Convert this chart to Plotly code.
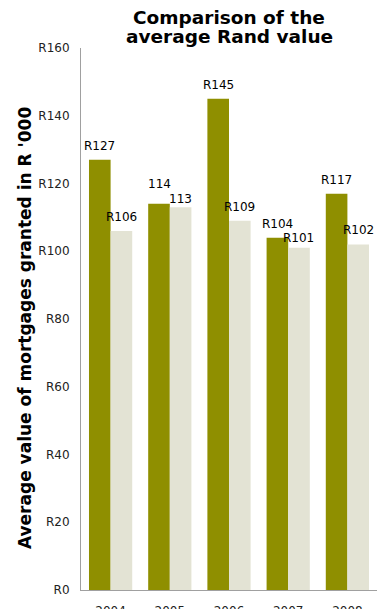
import plotly.graph_objects as go

years = ["2004", "2005", "2006", "2007", "2008"]
series_a = [127, 114, 145, 104, 117]
series_b = [106, 113, 109, 101, 102]
labels_a = ["R127", "114", "R145", "R104", "R117"]
labels_b = ["R106", "113", "R109", "R101", "R102"]
y_ticks = [0, 20, 40, 60, 80, 100, 120, 140, 160]
y_tick_text = ["R0", "R20", "R40", "R60", "R80", "R100", "R120", "R140", "R160"]

FONT = "DejaVu Sans"
# small label nudges (px) mimicking the source's label collision avoidance
nudge_a = {1: 6}
nudge_b = {1: -6, 3: -4}

fig = go.Figure()
fig.add_trace(go.Bar(x=years, y=series_a, marker=dict(color="#8F8F00", line=dict(width=0)),
                     name="A", showlegend=False))
fig.add_trace(go.Bar(x=years, y=series_b, marker=dict(color="#E3E3D4", line=dict(width=0)),
                     name="B", showlegend=False))

# data labels (category index positions on the category axis)
for i, yr in enumerate(years):
    fig.add_annotation(x=i, y=series_a[i], text=labels_a[i], xref="x", yref="y",
                       xshift=-10.7, yshift=5 + nudge_a.get(i, 0), yanchor="bottom",
                       showarrow=False, font=dict(family=FONT, size=12, color="#000"))
    fig.add_annotation(x=i, y=series_b[i], text=labels_b[i], xref="x", yref="y",
                       xshift=10.7, yshift=5 + nudge_b.get(i, 0), yanchor="bottom",
                       showarrow=False, font=dict(family=FONT, size=12, color="#000"))

# title (two tightly spaced lines)
fig.add_annotation(text="<b>Comparison of the</b>", xref="paper", yref="paper",
                   x=0.5, y=1.0554, xanchor="center", yanchor="middle", showarrow=False,
                   font=dict(family=FONT, size=18.5, color="#000"))
fig.add_annotation(text="<b>average Rand value</b>", xref="paper", yref="paper",
                   x=0.5, y=1.0203, xanchor="center", yanchor="middle", showarrow=False,
                   font=dict(family=FONT, size=18.5, color="#000"))
# y-axis title
fig.add_annotation(text="<b>Average value of mortgages granted in R '000</b>",
                   xref="paper", yref="paper", x=-0.189, y=0.4834, textangle=-90,
                   xanchor="center", yanchor="middle", showarrow=False,
                   font=dict(family=FONT, size=17, color="#000"))

fig.update_layout(
    width=377, height=609,
    margin=dict(l=81, r=0, t=48, b=19, autoexpand=False),
    paper_bgcolor="white", plot_bgcolor="white",
    barmode="group", bargap=0.27, bargroupgap=0,
    font=dict(family=FONT, size=12, color="#222"),
)
fig.update_yaxes(range=[0, 160], tickvals=y_ticks, ticktext=y_tick_text,
                 showgrid=False, zeroline=False, showline=True, linecolor="#A0A0A0",
                 linewidth=1, ticks="", ticklabelstandoff=8, automargin=False,
                 tickfont=dict(family=FONT, size=12, color="#222"))
fig.update_xaxes(type="category", range=[-0.5, len(years) - 0.5], showgrid=False,
                 showline=True, linecolor="#A0A0A0", automargin=False,
                 linewidth=1, ticks="", ticklabelstandoff=10,
                 tickfont=dict(family=FONT, size=12, color="#222"))

fig.write_html("out.html")
